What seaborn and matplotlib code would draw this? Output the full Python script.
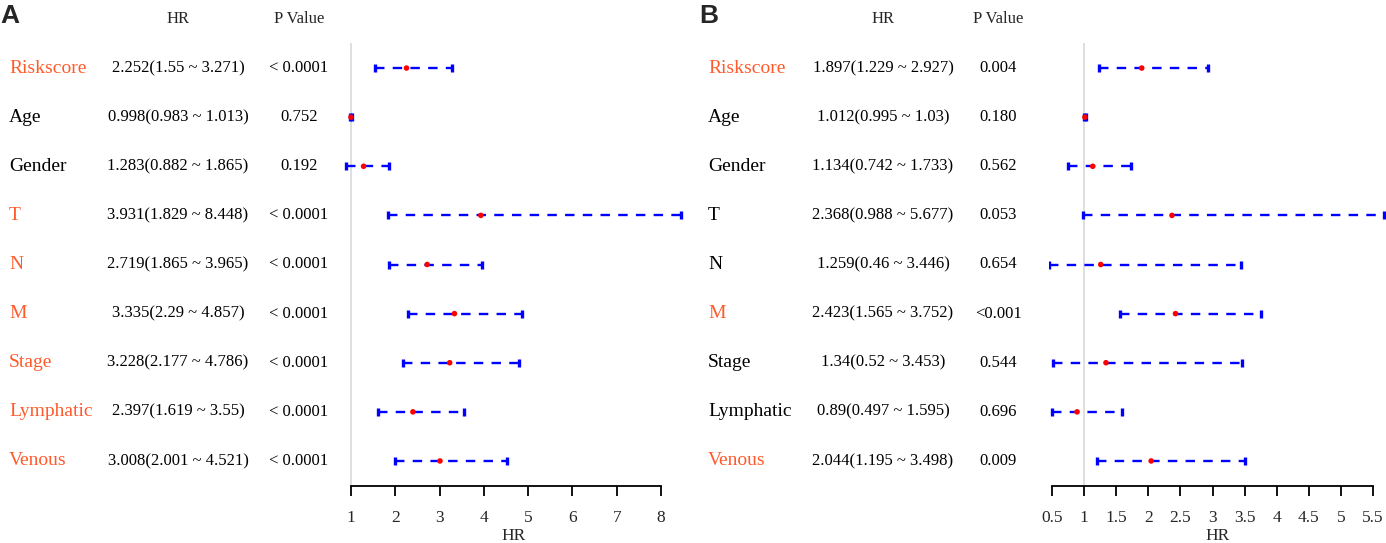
import numpy as np
import matplotlib
matplotlib.use("Agg")
import matplotlib.pyplot as plt
import matplotlib.transforms as mtransforms
import seaborn as sns

variables = ["Riskscore", "Age", "Gender", "T", "N", "M", "Stage", "Lymphatic", "Venous"]

# panel A
hr_a = [2.252, 0.998, 1.283, 3.931, 2.719, 3.335, 3.228, 2.397, 3.008]
low_a = [1.55, 0.983, 0.882, 1.829, 1.865, 2.29, 2.177, 1.619, 2.001]
high_a = [3.271, 1.013, 1.865, 8.448, 3.965, 4.857, 4.786, 3.55, 4.521]
p_a = ["< 0.0001", "0.752", "0.192", "< 0.0001", "< 0.0001", "< 0.0001",
       "< 0.0001", "< 0.0001", "< 0.0001"]
ticks_a = [1, 2, 3, 4, 5, 6, 7, 8]

# panel B
hr_b = [1.897, 1.012, 1.134, 2.368, 1.259, 2.423, 1.34, 0.89, 2.044]
low_b = [1.229, 0.995, 0.742, 0.988, 0.46, 1.565, 0.52, 0.497, 1.195]
high_b = [2.927, 1.03, 1.733, 5.677, 3.446, 3.752, 3.453, 1.595, 3.498]
p_b = ["0.004", "0.180", "0.562", "0.053", "0.654", "<0.001", "0.544", "0.696", "0.009"]
ticks_b = [0.5, 1, 1.5, 2, 2.5, 3, 3.5, 4, 4.5, 5, 5.5]

W, H = 1386, 543
ORANGE = "#FF5A2B"
SERIF = ["Liberation Serif", "DejaVu Serif"]

sns.set_theme(style="white")
plt.rcParams["font.family"] = SERIF

fig = plt.figure(figsize=(W / 100, H / 100), dpi=100)


def forest(ax_px, xlim, ticks, col_px, letter, hr, low, high, pvals):
    left, width = ax_px
    ax = fig.add_axes([left / W, 57 / H, width / W, 443 / H])
    rows = np.arange(len(variables))
    hr = np.array(hr)
    low = np.array(low)
    high = np.array(high)

    ax.axvline(1, color="#d9d9d9", lw=1.2, zorder=0)
    eb = ax.errorbar(hr, rows, xerr=[hr - low, high - hr], fmt="none",
                     ecolor="blue", elinewidth=1.7, capsize=3, capthick=2.4, zorder=2)
    eb[2][0].set_linestyle((0, (4, 3.5)))
    sns.scatterplot(x=hr, y=rows, color="red", s=16, edgecolor="none", ax=ax, zorder=3)

    ax.set_xlim(*xlim)
    ax.set_ylim(len(variables) - 0.49, -0.51)
    ax.set_yticks([])
    ax.set_xticks(ticks)
    ax.set_xticklabels([f"{t:g}" for t in ticks])
    for s in ["top", "right", "left"]:
        ax.spines[s].set_visible(False)
    ax.spines["bottom"].set_color("black")
    ax.spines["bottom"].set_linewidth(1.3)
    ax.spines["bottom"].set_bounds(ticks[0], ticks[-1])
    ax.tick_params(axis="x", direction="out", length=7, width=1.3, color="black",
                   labelsize=12.5, pad=10, bottom=True)
    ax.set_xlabel("HR", fontsize=12.5, labelpad=2)
    ax.set_ylabel("")
    ax.grid(False)
    ax.patch.set_alpha(0)

    lab_x, hr_x, p_x = col_px
    tr = mtransforms.blended_transform_factory(fig.transFigure, ax.transData)
    for i, name in enumerate(variables):
        sig = float(pvals[i].replace("<", "")) < 0.05
        fig.text(lab_x / W, i, name, transform=tr, ha="left", va="center",
                 fontsize=14, color=ORANGE if sig else "black")
        fig.text(hr_x / W, i, f"{hr[i]}({low[i]} ~ {high[i]})", transform=tr,
                 ha="center", va="center", fontsize=12, color="black")
        fig.text(p_x / W, i, pvals[i], transform=tr, ha="center", va="center",
                 fontsize=12, color="black")

    fig.text(hr_x / W, 1 - 19 / H, "HR", ha="center", va="center", fontsize=12)
    fig.text(p_x / W, 1 - 19 / H, "P Value", ha="center", va="center", fontsize=12)
    fig.text((lab_x - 9) / W, 1 - 4 / H, letter, ha="left", va="top", fontsize=19,
             fontweight="bold", family=["Liberation Sans", "DejaVu Sans"])
    return ax


forest((344.4, 338.8), (0.85, 8.5), ticks_a, (9, 178, 299), "A", hr_a, low_a, high_a, p_a)
forest((1048.8, 337.1), (0.45, 5.7), ticks_b, (708, 883, 998), "B", hr_b, low_b, high_b, p_b)

fig.savefig("out.png", dpi=100)
